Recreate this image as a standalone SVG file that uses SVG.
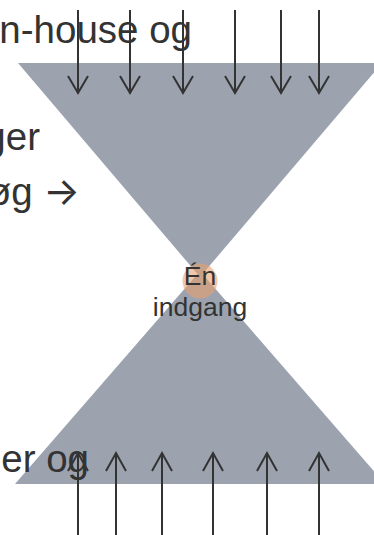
<svg xmlns="http://www.w3.org/2000/svg" width="374" height="535" viewBox="0 0 374 535">
  <defs>
    <style>
      .shape { fill: #9ca3af; }
      .side { font-family: "Liberation Sans", Arial, sans-serif; font-size: 38.5px; fill: #333333; text-anchor: end; }
      .sym { font-family: Inter, "Noto Sans", "DejaVu Sans", sans-serif; }
      .center { font-family: "Liberation Sans", Arial, sans-serif; font-size: 26.5px; fill: #333333; text-anchor: middle; }
      .arrow { stroke: #333333; stroke-width: 2; fill: none; }
    </style>
  </defs>
  <rect width="374" height="535" fill="#ffffff"/>
  <g id="top-funnel">
    <polygon class="shape" points="18,63 382,63 200,277"/>
  </g>
  <g id="bottom-funnel">
    <polygon class="shape" points="200,271 385,484 15,484"/>
  </g>
  <g id="left-texts">
    <text class="side" x="192" y="43">n-house og</text>
    <text class="side" x="40" y="150">ger</text>
    <text class="side" x="80" y="205">øg <tspan class="sym">→</tspan></text>
    <text class="side" x="89" y="472">er og</text>
  </g>
  <g id="entry">
    <circle cx="200" cy="281" r="17.5" fill="#e8a070" fill-opacity="0.6"/>
    <text class="center" x="200" y="285">Én</text>
    <text class="center" x="200" y="316">indgang</text>
  </g>
  <g id="connectors">
    <path class="arrow" d="M78,10 V93 M68,76 L78,93 L88,76"/>
    <path class="arrow" d="M130,10 V93 M120,76 L130,93 L140,76"/>
    <path class="arrow" d="M183,10 V93 M173,76 L183,93 L193,76"/>
    <path class="arrow" d="M235,10 V93 M225,76 L235,93 L245,76"/>
    <path class="arrow" d="M281,10 V93 M271,76 L281,93 L291,76"/>
    <path class="arrow" d="M319,10 V93 M309,76 L319,93 L329,76"/>
    <path class="arrow" d="M78,540 V453 M68,471 L78,453 L88,471"/>
    <path class="arrow" d="M116,540 V453 M106,471 L116,453 L126,471"/>
    <path class="arrow" d="M162,540 V453 M152,471 L162,453 L172,471"/>
    <path class="arrow" d="M213,540 V453 M203,471 L213,453 L223,471"/>
    <path class="arrow" d="M267,540 V453 M257,471 L267,453 L277,471"/>
    <path class="arrow" d="M319,540 V453 M309,471 L319,453 L329,471"/>
  </g>
</svg>
